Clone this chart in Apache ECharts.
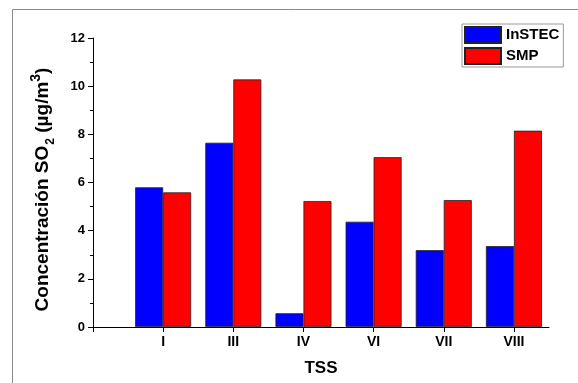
<!DOCTYPE html>
<html>
<head>
<meta charset="utf-8">
<script src="https://cdn.jsdelivr.net/npm/echarts@6/dist/echarts.min.js"></script>
<style>html,body{margin:0;padding:0;background:#fff}#c{width:578px;height:383px}</style>
</head>
<body>
<div id="c"></div>
<script>
const categories = ["I", "III", "IV", "VI", "VII", "VIII"];
const instec = [5.80, 7.65, 0.57, 4.37, 3.19, 3.36];
const smp = [5.59, 10.28, 5.23, 7.05, 5.27, 8.15];
const yTicks = [0, 2, 4, 6, 8, 10, 12];

const chart = echarts.init(document.getElementById('c'), null, {renderer: 'canvas'});
const F = '"Liberation Sans", Arial, sans-serif';
const toPairs = arr => arr.map((v, i) => [i + 1, v]);

chart.setOption({
  animation: false,
  backgroundColor: '#fff',
  textStyle: {fontFamily: F},
  graphic: [{
    type: 'rect', shape: {x: 12.5, y: 9.5, width: 600, height: 400},
    style: {fill: 'none', stroke: '#8a8a8a', lineWidth: 1}, silent: true
  }],
  grid: {left: 93, top: 38, right: 29, bottom: 56, containLabel: false},
  legend: {
    orient: 'vertical', left: 462, top: 24, width: 106,
    itemWidth: 36, itemHeight: 16, itemGap: 3,
    padding: [2, 4, 2, 2],
    borderColor: '#999', borderWidth: 1,
    textStyle: {fontFamily: F, fontWeight: 'bold', fontSize: 15, color: '#000'},
    icon: 'rect',
    data: ['InSTEC', 'SMP']
  },
  xAxis: {
    type: 'value', min: 0, max: 6.5, interval: 1,
    name: 'TSS', nameLocation: 'middle', nameGap: 33,
    nameTextStyle: {fontFamily: F, fontWeight: 'bold', fontSize: 17, color: '#000'},
    axisLine: {show: true, onZero: false, lineStyle: {color: '#000', width: 1}},
    axisTick: {show: true, length: 5, lineStyle: {color: '#000'}, customValues: [0, 1, 2, 3, 4, 5, 6]},
    axisLabel: {
      customValues: [1, 2, 3, 4, 5, 6],
      formatter: v => categories[Math.round(v) - 1] || '',
      fontFamily: F, fontWeight: 'bold', fontSize: 14, color: '#000', margin: 8
    },
    splitLine: {show: false}
  },
  yAxis: {
    type: 'value', min: 0, max: 12, interval: 2,
    name: '{a|Concentración SO}{sub|2}{a| (µg/m}{sup|3}{a|)}',
    nameLocation: 'middle', nameGap: 36,
    nameTextStyle: {
      fontFamily: F, fontWeight: 'bold', fontSize: 19, color: '#000',
      padding: [0, 14, 0, 0],
      rich: {
        a: {fontFamily: F, fontWeight: 'bold', fontSize: 19, color: '#000', lineHeight: 28, verticalAlign: 'middle'},
        sub: {fontFamily: F, fontWeight: 'bold', fontSize: 12, color: '#000', lineHeight: 28, verticalAlign: 'bottom', padding: [0, 0, 0, 1]},
        sup: {fontFamily: F, fontWeight: 'bold', fontSize: 14, color: '#000', lineHeight: 28, verticalAlign: 'top'}
      }
    },
    axisLine: {show: true, lineStyle: {color: '#000', width: 1}},
    axisTick: {show: true, length: 5, lineStyle: {color: '#000'}},
    minorTick: {show: true, splitNumber: 2, length: 3, lineStyle: {color: '#000'}},
    axisLabel: {
      customValues: yTicks,
      fontFamily: F, fontWeight: 'bold', fontSize: 13, color: '#000', margin: 8
    },
    splitLine: {show: false}
  },
  series: [
    {
      name: 'InSTEC', type: 'bar', data: toPairs(instec),
      barWidth: 28, barGap: '0%',
      itemStyle: {color: '#0000ff', borderColor: '#222', borderWidth: 0.8}
    },
    {
      name: 'SMP', type: 'bar', data: toPairs(smp),
      barWidth: 28, barGap: '0%',
      itemStyle: {color: '#ff0000', borderColor: '#222', borderWidth: 0.8}
    }
  ]
});
</script>
</body>
</html>
